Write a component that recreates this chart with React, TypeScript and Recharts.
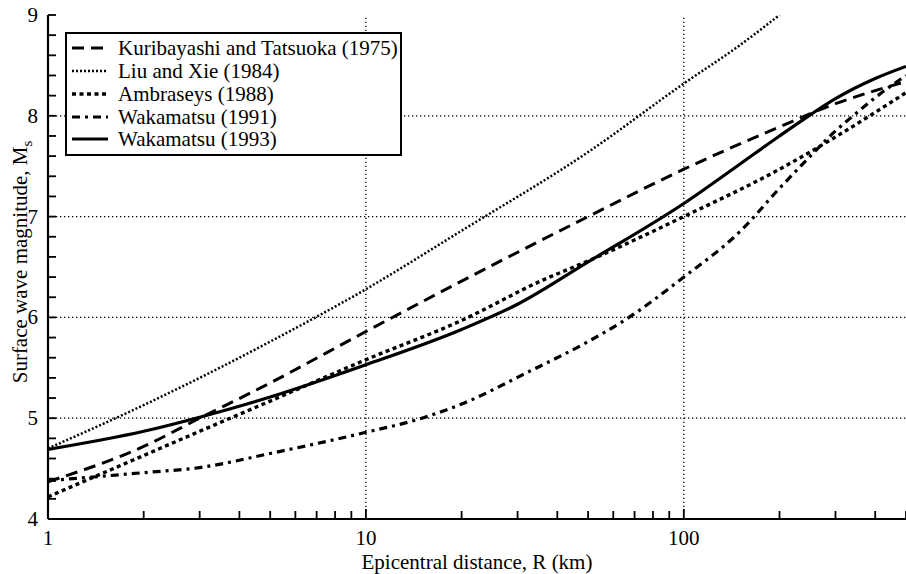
import { LineChart, Line, XAxis, YAxis, ReferenceLine, Label } from "recharts";

const FONT = '"Liberation Serif", "DejaVu Serif", Tinos, serif';

// distances (km) and magnitudes
const kuribayashiR = [1, 2, 3, 5, 10, 20, 50, 100, 200, 300, 400, 500];
const kuribayashiM = [4.37, 4.72, 5.0, 5.35, 5.86, 6.36, 7.0, 7.47, 7.89, 8.12, 8.25, 8.34];

const liuR = [1, 2, 3, 5, 10, 20, 50, 100, 150, 200];
const liuM = [4.7, 5.13, 5.4, 5.76, 6.28, 6.86, 7.64, 8.32, 8.7, 9.0];

const ambraseysR = [1, 2, 3, 5, 10, 20, 36, 50, 100, 200, 300, 500];
const ambraseysM = [4.22, 4.63, 4.87, 5.17, 5.58, 5.97, 6.37, 6.56, 7.0, 7.47, 7.79, 8.23];

const waka91R = [1, 2, 3, 5, 10, 15, 20, 32, 50, 65, 100, 150, 200, 250, 300, 350, 400, 500];
const waka91M = [4.38, 4.46, 4.51, 4.65, 4.86, 5.0, 5.14, 5.45, 5.76, 5.97, 6.4, 6.85, 7.28, 7.6, 7.85, 8.03, 8.18, 8.4];

const waka93R = [1, 2, 3, 5, 10, 20, 30, 50, 100, 150, 200, 250, 300, 400, 500];
const waka93M = [4.69, 4.87, 5.01, 5.21, 5.53, 5.88, 6.13, 6.55, 7.13, 7.52, 7.8, 8.01, 8.17, 8.37, 8.49];

const xTicks = [1, 2, 3, 4, 5, 6, 7, 8, 9, 10, 20, 30, 40, 50, 60, 70, 80, 90, 100, 200, 300, 400, 500];
const xLabels = [1, 10, 100];
const yTicks = [
  4, 4.2, 4.4, 4.6, 4.8, 5, 5.2, 5.4, 5.6, 5.8, 6, 6.2, 6.4, 6.6, 6.8, 7, 7.2, 7.4, 7.6, 7.8, 8, 8.2, 8.4, 8.6,
  8.8, 9,
];
const gridY = [5, 6, 7, 8];
const gridX = [10, 100];

const toPoints = (r: number[], m: number[]) => r.map((v, i) => ({ r: v, m: m[i] }));

const series = [
  { name: "Kuribayashi and Tatsuoka (1975)", data: toPoints(kuribayashiR, kuribayashiM), dash: "12 7", width: 3 },
  { name: "Liu and Xie (1984)", data: toPoints(liuR, liuM), dash: "2 2", width: 2.5 },
  { name: "Ambraseys (1988)", data: toPoints(ambraseysR, ambraseysM), dash: "4 3.5", width: 3.4 },
  { name: "Wakamatsu (1991)", data: toPoints(waka91R, waka91M), dash: "8 5 3 5", width: 3.2 },
  { name: "Wakamatsu (1993)", data: toPoints(waka93R, waka93M), dash: undefined, width: 3.2 },
];

const isInt = (v: number) => Math.abs(v - Math.round(v)) < 1e-6;

const BottomTick = (props: any) => {
  const { x, y, payload } = props;
  const v = payload.value;
  const major = xLabels.includes(v);
  return (
    <g>
      <line x1={x} y1={y} x2={x} y2={y - (major ? 10 : 8)} stroke="#000" strokeWidth={1.8} />
      {major && (
        <text x={x} y={y + 26} textAnchor="middle" fontSize={21} fontFamily={FONT} fill="#000">
          {v}
        </text>
      )}
    </g>
  );
};

const TopTick = (props: any) => {
  const { x, y, payload } = props;
  const major = xLabels.includes(payload.value);
  return <line x1={x} y1={y} x2={x} y2={y + (major ? 10 : 8)} stroke="#000" strokeWidth={1.8} />;
};

const LeftTick = (props: any) => {
  const { x, y, payload } = props;
  const v = payload.value;
  return (
    <g>
      <line x1={x} y1={y} x2={x + 8} y2={y} stroke="#000" strokeWidth={1.8} />
      {isInt(v) && (
        <text x={x - 10} y={y + 7} textAnchor="end" fontSize={21} fontFamily={FONT} fill="#000">
          {Math.round(v)}
        </text>
      )}
    </g>
  );
};

const RightTick = (props: any) => {
  const { x, y } = props;
  return <line x1={x} y1={y} x2={x - 8} y2={y} stroke="#000" strokeWidth={1.8} />;
};

const XTitle = (props: any) => {
  const vb = props.viewBox || { x: 48, y: 519, width: 858, height: 55 };
  return (
    <text x={vb.x + vb.width / 2} y={vb.y + 50} textAnchor="middle" fontSize={21} fontFamily={FONT} fill="#000">
      Epicentral distance, R (km)
    </text>
  );
};

const YTitle = (props: any) => {
  const vb = props.viewBox || { x: 0, y: 15, width: 48, height: 504 };
  const cy = vb.y + vb.height / 2 - 5;
  return (
    <text
      transform={`translate(27, ${cy}) rotate(-90)`}
      textAnchor="middle"
      fontSize={21}
      fontFamily={FONT}
      fill="#000"
    >
      Surface wave magnitude, M
      <tspan dy={5} fontSize={15}>
        s
      </tspan>
    </text>
  );
};

const LegendBox = () => (
  <div
    style={{
      position: "absolute",
      left: 65,
      top: 32,
      width: 333,
      height: 117,
      border: "2px solid #000",
      background: "#fff",
      paddingTop: 3,
      fontFamily: FONT,
      fontSize: 21,
      color: "#000",
    }}
  >
    {series.map((s) => (
      <div key={s.name} style={{ display: "flex", alignItems: "center", height: 22.75, whiteSpace: "nowrap" }}>
        <svg width={46} height={12} style={{ marginLeft: 5, flexShrink: 0 }}>
          <line x1={0} y1={6} x2={36} y2={6} stroke="#000" strokeWidth={s.width} strokeDasharray={s.dash} />
        </svg>
        <span style={{ lineHeight: "22px" }}>{s.name}</span>
      </div>
    ))}
  </div>
);

export default function App() {
  return (
    <div style={{ position: "absolute", left: 0, top: 0, width: 906, height: 574, background: "#fff" }}>
      <LineChart width={906} height={574} margin={{ top: 15, right: 0, bottom: 0, left: 0 }}>
        <XAxis
          dataKey="r"
          type="number"
          scale="log"
          domain={[1, 500]}
          allowDataOverflow
          ticks={xTicks}
          interval={0}
          height={55}
          tickSize={0}
          tickMargin={0}
          tick={BottomTick}
          axisLine={{ stroke: "#000", strokeWidth: 2.2 }}
        >
          <Label content={XTitle} />
        </XAxis>
        <XAxis
          xAxisId="top"
          orientation="top"
          dataKey="r"
          type="number"
          scale="log"
          domain={[1, 500]}
          allowDataOverflow
          ticks={xTicks}
          interval={0}
          height={0}
          tickSize={0}
          tickMargin={0}
          tick={TopTick}
          axisLine={{ stroke: "#000", strokeWidth: 2.2 }}
        />
        <YAxis
          type="number"
          domain={[4, 9]}
          allowDataOverflow
          ticks={yTicks}
          interval={0}
          width={48}
          tickSize={0}
          tickMargin={0}
          tick={LeftTick}
          axisLine={{ stroke: "#000", strokeWidth: 2.2 }}
        >
          <Label content={YTitle} />
        </YAxis>
        <YAxis
          yAxisId="right"
          orientation="right"
          type="number"
          domain={[4, 9]}
          allowDataOverflow
          ticks={yTicks}
          interval={0}
          width={0}
          tickSize={0}
          tickMargin={0}
          tick={RightTick}
          axisLine={false}
        />
        {gridY.map((v) => (
          <ReferenceLine key={`gy${v}`} y={v} stroke="#000" strokeWidth={1.3} strokeDasharray="1.3 2.7" />
        ))}
        {gridX.map((v) => (
          <ReferenceLine key={`gx${v}`} x={v} stroke="#000" strokeWidth={1.3} strokeDasharray="1.3 2.7" />
        ))}
        {series.map((s) => (
          <Line
            key={s.name}
            data={s.data}
            dataKey="m"
            type="monotone"
            stroke="#000"
            strokeWidth={s.width}
            strokeDasharray={s.dash}
            dot={false}
            activeDot={false}
            isAnimationActive={false}
          />
        ))}
      </LineChart>
      <LegendBox />
    </div>
  );
}
